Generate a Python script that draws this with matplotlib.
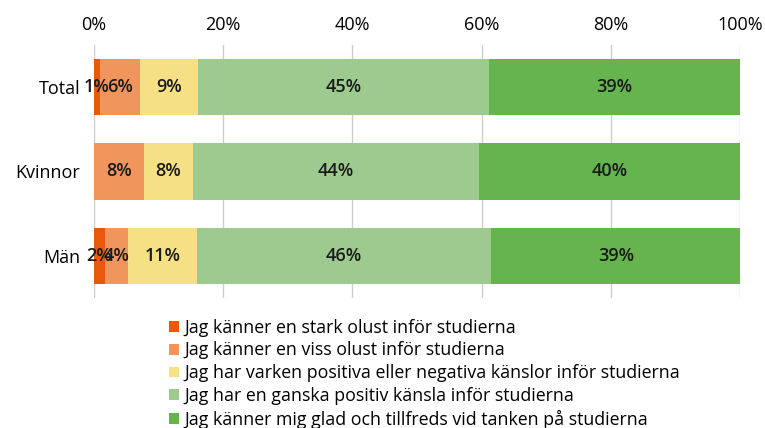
import numpy as np
import matplotlib
matplotlib.use("Agg")
import matplotlib.pyplot as plt

plt.rcParams['font.family'] = ['Open Sans', 'DejaVu Sans']

groups = ['Total', 'Kvinnor', 'Män']
series = ['Jag känner en stark olust inför studierna',
          'Jag känner en viss olust inför studierna',
          'Jag har varken positiva eller negativa känslor inför studierna',
          'Jag har en ganska positiv känsla inför studierna',
          'Jag känner mig glad och tillfreds vid tanken på studierna']
values = [
    [0.9, 0.0, 1.7],
    [6.2, 7.7, 3.6],
    [9.0, 7.6, 10.6],
    [45.0, 44.3, 45.6],
    [38.9, 40.4, 38.6],
]
colors = ['#E8590C', '#F0965C', '#F5E086', '#9DCB8F', '#65B44E']

fig = plt.figure(figsize=(7.65, 4.28), dpi=100)
ax = fig.add_axes([0.1229, 0.3037, 0.8444, 0.5912])

y = np.arange(len(groups))
left = np.zeros(len(groups))
for vals, name, c in zip(values, series, colors):
    vals = np.array(vals)
    bars = ax.barh(y, vals, left=left, height=0.67, color=c, label=name, zorder=3)
    for b, v in zip(bars, vals):
        if v >= 0.5:
            ax.text(b.get_x() + b.get_width() / 2, b.get_y() + b.get_height() / 2,
                    f'{int(v + 0.5)}%', ha='center', va='center',
                    fontsize=13, fontweight='semibold', color='#1a1a1a', zorder=4)
    left += vals

ax.set_xlim(0, 100)
ax.set_ylim(2.5, -0.5)
ax.set_yticks(y)
ax.set_yticklabels(groups, fontsize=13)
ax.set_xticks(np.arange(0, 101, 20))
ax.set_xticklabels([f'{t}%' for t in range(0, 101, 20)], fontsize=13)
ax.xaxis.tick_top()
ax.tick_params(length=0, pad=8)
ax.tick_params(axis='y', pad=10)
ax.grid(axis='x', color='#CCCCCC', lw=1, zorder=0)
for s in ax.spines.values():
    s.set_visible(False)

fig.legend(loc='upper left', bbox_to_anchor=(0.212, 0.272), frameon=False,
           fontsize=12.8, handlelength=0.55, handleheight=0.55, handletextpad=0.3,
           labelspacing=0.27, borderaxespad=0)

fig.savefig('out.png', dpi=100)
